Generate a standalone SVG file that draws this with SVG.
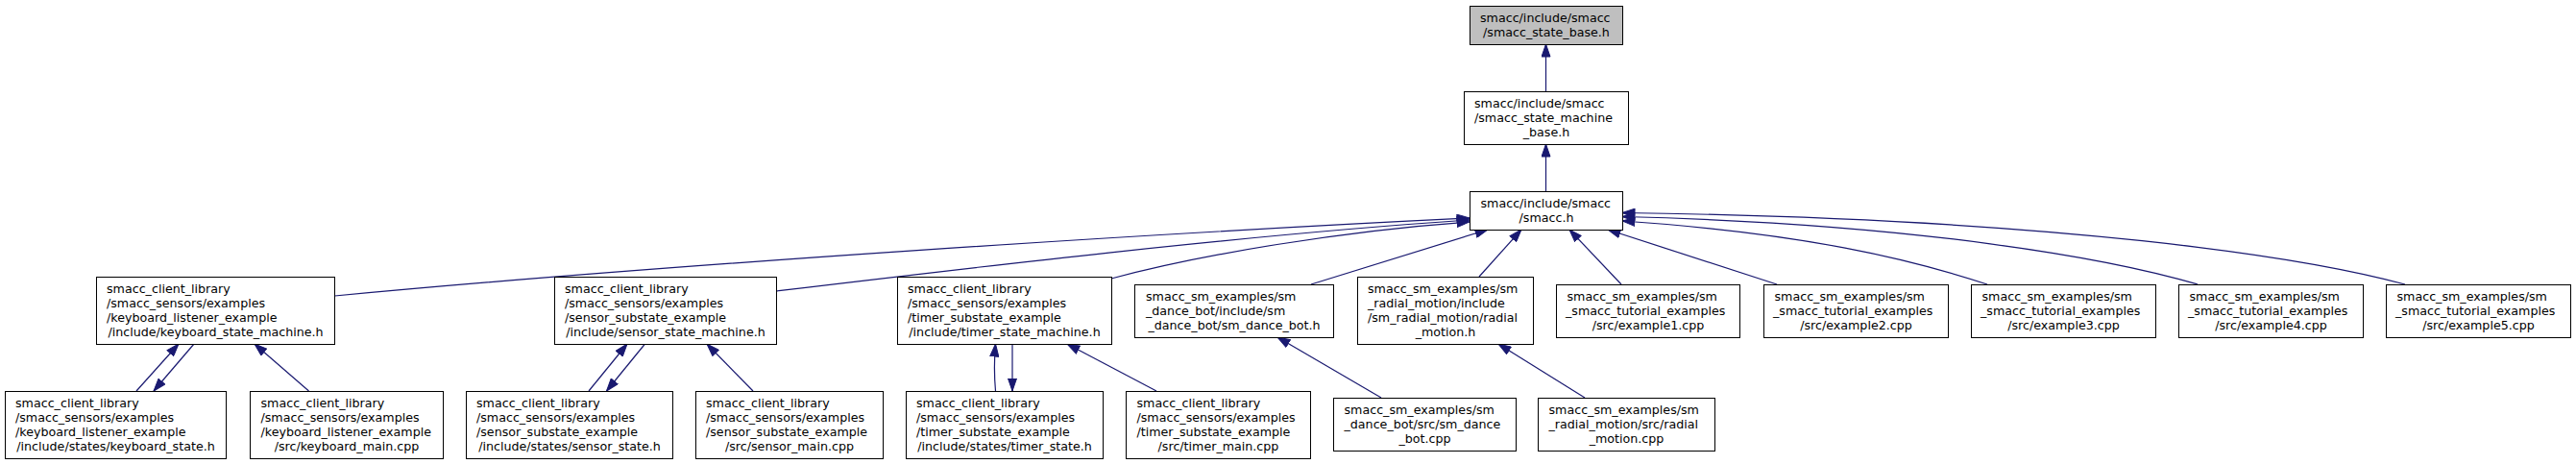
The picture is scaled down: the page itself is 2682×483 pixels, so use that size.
<svg xmlns="http://www.w3.org/2000/svg" width="2682" height="483" viewBox="0 0 2682 483">
<style>
.n rect{fill:#ffffff;stroke:#000000;stroke-width:1}
.n.g rect{fill:#bfbfbf}
.n text{font-family:"DejaVu Sans","Liberation Sans",sans-serif;font-size:12.67px;fill:#000000}
.n text.c{text-anchor:middle}
.e path{fill:none;stroke:#191970;stroke-width:1.2}
</style>
<defs>
<marker id="ah" markerUnits="userSpaceOnUse" markerWidth="14" markerHeight="10" viewBox="0 0 14 10" refX="13.5" refY="5" orient="auto">
<path d="M0.5,0.5 L13.5,5 L0.5,9.5 Z" fill="#191970" stroke="#191970" stroke-width="1"/>
</marker>
</defs>
<rect width="2682" height="483" fill="#ffffff"/>
<g class="e">
<path marker-end="url(#ah)" d="M1609.5,95 L1609.5,46"/>
<path marker-end="url(#ah)" d="M1609.5,199 L1609.5,150"/>
<path marker-end="url(#ah)" d="M348.5,308 C700,275 1200,243 1530,227"/>
<path marker-end="url(#ah)" d="M808,303 C1000,280 1300,244 1530,229"/>
<path marker-end="url(#ah)" d="M1157,290 C1250,265 1400,240 1530,231"/>
<path marker-end="url(#ah)" d="M1365,296 L1549,239"/>
<path marker-end="url(#ah)" d="M1540,288 L1584,239"/>
<path marker-end="url(#ah)" d="M1688,296 L1634,239"/>
<path marker-end="url(#ah)" d="M1850,296 L1674,239"/>
<path marker-end="url(#ah)" d="M2069,296 C1990,270 1880,243 1689,230"/>
<path marker-end="url(#ah)" d="M2288,296 C2200,270 2000,233 1689,225.5"/>
<path marker-end="url(#ah)" d="M2504,296 C2400,268 2150,228 1689,221.5"/>
<path marker-end="url(#ah)" d="M142,407 L186,358"/>
<path marker-end="url(#ah)" d="M202,358 L160,407"/>
<path marker-end="url(#ah)" d="M321.5,407 L265,358"/>
<path marker-end="url(#ah)" d="M613,407 L653,358"/>
<path marker-end="url(#ah)" d="M671.5,358 L631.5,407"/>
<path marker-end="url(#ah)" d="M784,407 L736,358"/>
<path marker-end="url(#ah)" d="M1036.5,407 C1035,390 1035,375 1036.5,358"/>
<path marker-end="url(#ah)" d="M1054,358 L1054,407"/>
<path marker-end="url(#ah)" d="M1204,407 L1111,358"/>
<path marker-end="url(#ah)" d="M1438,414 L1330,351"/>
<path marker-end="url(#ah)" d="M1650,414 L1560,358"/>
</g>
<g id="n_state_base" class="n g">
<rect x="1530.5" y="6.5" width="159" height="40"/>
<text x="1541" y="23">smacc/include/smacc</text>
<text class="c" x="1610" y="38">/smacc_state_base.h</text>
</g>
<g id="n_sm_base" class="n">
<rect x="1524.5" y="95.5" width="171" height="55"/>
<text x="1535" y="112">smacc/include/smacc</text>
<text x="1535" y="127">/smacc_state_machine</text>
<text class="c" x="1610" y="142">_base.h</text>
</g>
<g id="n_smacc" class="n">
<rect x="1530.5" y="199.5" width="159" height="40"/>
<text x="1541.5" y="216">smacc/include/smacc</text>
<text class="c" x="1610" y="231">/smacc.h</text>
</g>
<g id="n_kb_sm" class="n">
<rect x="100.5" y="288.5" width="248" height="70"/>
<text x="111" y="305">smacc_client_library</text>
<text x="111" y="320">/smacc_sensors/examples</text>
<text x="111" y="335">/keyboard_listener_example</text>
<text class="c" x="224.5" y="350">/include/keyboard_state_machine.h</text>
</g>
<g id="n_sensor_sm" class="n">
<rect x="577.5" y="288.5" width="231" height="70"/>
<text x="588" y="305">smacc_client_library</text>
<text x="588" y="320">/smacc_sensors/examples</text>
<text x="588" y="335">/sensor_substate_example</text>
<text class="c" x="693" y="350">/include/sensor_state_machine.h</text>
</g>
<g id="n_timer_sm" class="n">
<rect x="934.5" y="288.5" width="223" height="70"/>
<text x="945" y="305">smacc_client_library</text>
<text x="945" y="320">/smacc_sensors/examples</text>
<text x="945" y="335">/timer_substate_example</text>
<text class="c" x="1046" y="350">/include/timer_state_machine.h</text>
</g>
<g id="n_dance_h" class="n">
<rect x="1181.5" y="296.5" width="207" height="55"/>
<text x="1193" y="313">smacc_sm_examples/sm</text>
<text x="1193" y="328">_dance_bot/include/sm</text>
<text class="c" x="1285" y="343">_dance_bot/sm_dance_bot.h</text>
</g>
<g id="n_radial_h" class="n">
<rect x="1413.5" y="288.5" width="183" height="70"/>
<text x="1424" y="305">smacc_sm_examples/sm</text>
<text x="1424" y="320">_radial_motion/include</text>
<text x="1424" y="335">/sm_radial_motion/radial</text>
<text class="c" x="1505" y="350">_motion.h</text>
</g>
<g id="n_ex1" class="n">
<rect x="1620.5" y="296.5" width="191" height="55"/>
<text x="1631.5" y="313">smacc_sm_examples/sm</text>
<text x="1630" y="328">_smacc_tutorial_examples</text>
<text class="c" x="1716" y="343">/src/example1.cpp</text>
</g>
<g id="n_ex2" class="n">
<rect x="1836.5" y="296.5" width="192" height="55"/>
<text x="1847.5" y="313">smacc_sm_examples/sm</text>
<text x="1846" y="328">_smacc_tutorial_examples</text>
<text class="c" x="1932.5" y="343">/src/example2.cpp</text>
</g>
<g id="n_ex3" class="n">
<rect x="2052.5" y="296.5" width="192" height="55"/>
<text x="2063.5" y="313">smacc_sm_examples/sm</text>
<text x="2062" y="328">_smacc_tutorial_examples</text>
<text class="c" x="2148.5" y="343">/src/example3.cpp</text>
</g>
<g id="n_ex4" class="n">
<rect x="2268.5" y="296.5" width="192" height="55"/>
<text x="2279.5" y="313">smacc_sm_examples/sm</text>
<text x="2278" y="328">_smacc_tutorial_examples</text>
<text class="c" x="2364.5" y="343">/src/example4.cpp</text>
</g>
<g id="n_ex5" class="n">
<rect x="2484.5" y="296.5" width="192" height="55"/>
<text x="2495.5" y="313">smacc_sm_examples/sm</text>
<text x="2494" y="328">_smacc_tutorial_examples</text>
<text class="c" x="2580.5" y="343">/src/example5.cpp</text>
</g>
<g id="n_kb_state" class="n">
<rect x="5.5" y="407.5" width="230" height="70"/>
<text x="16" y="424">smacc_client_library</text>
<text x="16" y="439">/smacc_sensors/examples</text>
<text x="16" y="454">/keyboard_listener_example</text>
<text class="c" x="120.5" y="469">/include/states/keyboard_state.h</text>
</g>
<g id="n_kb_main" class="n">
<rect x="260.5" y="407.5" width="201" height="70"/>
<text x="271.5" y="424">smacc_client_library</text>
<text x="271.5" y="439">/smacc_sensors/examples</text>
<text x="271.5" y="454">/keyboard_listener_example</text>
<text class="c" x="361" y="469">/src/keyboard_main.cpp</text>
</g>
<g id="n_sensor_state" class="n">
<rect x="485.5" y="407.5" width="215" height="70"/>
<text x="496" y="424">smacc_client_library</text>
<text x="496" y="439">/smacc_sensors/examples</text>
<text x="496" y="454">/sensor_substate_example</text>
<text class="c" x="593" y="469">/include/states/sensor_state.h</text>
</g>
<g id="n_sensor_main" class="n">
<rect x="724.5" y="407.5" width="195" height="70"/>
<text x="735" y="424">smacc_client_library</text>
<text x="735" y="439">/smacc_sensors/examples</text>
<text x="735" y="454">/sensor_substate_example</text>
<text class="c" x="822" y="469">/src/sensor_main.cpp</text>
</g>
<g id="n_timer_state" class="n">
<rect x="943.5" y="407.5" width="205" height="70"/>
<text x="954" y="424">smacc_client_library</text>
<text x="954" y="439">/smacc_sensors/examples</text>
<text x="954" y="454">/timer_substate_example</text>
<text class="c" x="1046" y="469">/include/states/timer_state.h</text>
</g>
<g id="n_timer_main" class="n">
<rect x="1172.5" y="407.5" width="192" height="70"/>
<text x="1183.5" y="424">smacc_client_library</text>
<text x="1183.5" y="439">/smacc_sensors/examples</text>
<text x="1183.5" y="454">/timer_substate_example</text>
<text class="c" x="1268.5" y="469">/src/timer_main.cpp</text>
</g>
<g id="n_dance_cpp" class="n">
<rect x="1388.5" y="414.5" width="190" height="55"/>
<text x="1399.5" y="431">smacc_sm_examples/sm</text>
<text x="1399.5" y="446">_dance_bot/src/sm_dance</text>
<text class="c" x="1483.5" y="461">_bot.cpp</text>
</g>
<g id="n_radial_cpp" class="n">
<rect x="1601.5" y="414.5" width="184" height="55"/>
<text x="1612.5" y="431">smacc_sm_examples/sm</text>
<text x="1612.5" y="446">_radial_motion/src/radial</text>
<text class="c" x="1693.5" y="461">_motion.cpp</text>
</g>
</svg>
